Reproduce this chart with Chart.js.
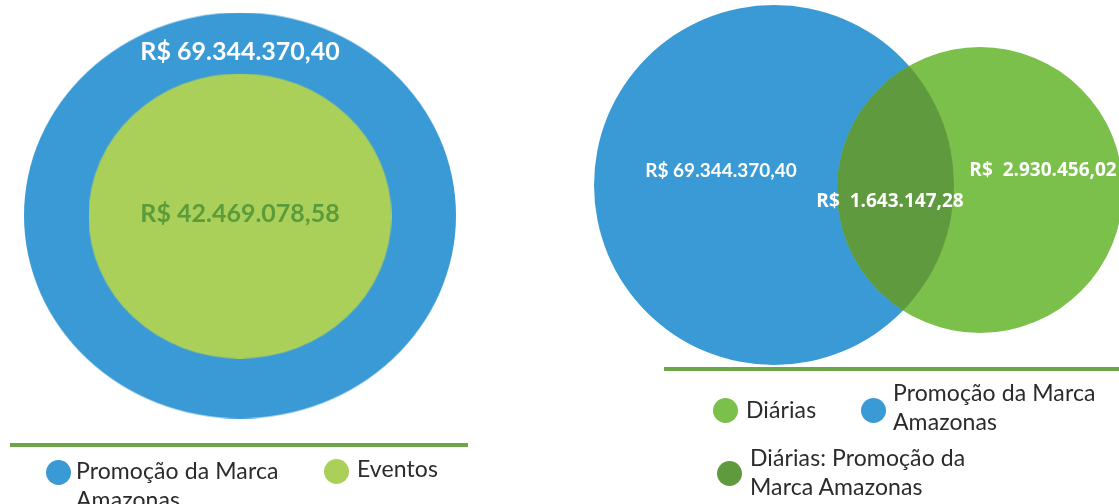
<!DOCTYPE html>
<html>
<head>
<meta charset="utf-8">
<script src="https://cdn.jsdelivr.net/npm/chart.js@4.4.1/dist/chart.umd.min.js"></script>
<style>
  html, body { margin: 0; padding: 0; background: #ffffff; }
  #wrap { position: relative; width: 1119px; height: 504px; overflow: hidden; font-family: Lato, "Open Sans", sans-serif; }
  #c { position: absolute; left: 0; top: 0; }
  .rule { position: absolute; height: 4px; background: #6da548; }
  .dot { position: absolute; width: 25px; height: 25px; border-radius: 50%; }
  .ltxt { position: absolute; white-space: nowrap; color: #2b2b2b; font-size: 23px; line-height: 29px; font-family: Lato, sans-serif; letter-spacing: 0.1px; }
</style>
</head>
<body>
<div id="wrap">
  <canvas id="c" width="1119" height="504"></canvas>
  <div id="legends"></div>
</div>
<script>
// ---- data ----
const leftCategories = ['Promoção da Marca Amazonas', 'Eventos'];
const leftValues = [69344370.40, 42469078.58];
const rightCategories = ['Promoção da Marca Amazonas', 'Diárias', 'Diárias: Promoção da Marca Amazonas'];
const rightValues = [69344370.40, 2930456.02, 1643147.28];
const rightLegendOrder = ['Diárias', 'Promoção da Marca Amazonas', 'Diárias: Promoção da Marca Amazonas'];

// ---- layout & style (not data) ----
const colors = {
  blue: '#3a9ad6',
  paleGreen: '#abd05a',
  green: '#7bc04b',
  lens: '#5f9a3f',
  label: '#5a9b3b'
};
const leftShapes = [
  { cx: 240, cy: 215.5, rx: 216, ry: 203, color: colors.blue },
  { cx: 240, cy: 216, rx: 151.5, ry: 142.5, color: colors.paleGreen }
];
const rightShapes = [
  { cx: 774, cy: 185, rx: 180, ry: 180, color: colors.blue },
  { cx: 980, cy: 190, rx: 143, ry: 143, color: colors.green }
];
const leftLabelPos = [
  { x: 240, y: 52, color: '#ffffff', size: 25, font: 'Lato', sep: ' ' },
  { x: 240, y: 214, color: colors.label, size: 25, font: 'Lato', sep: ' ' }
];
const rightLabelPos = [
  { x: 721, y: 171, color: '#ffffff', size: 19, font: 'Lato', sep: ' ' },
  { x: 1043, y: 171, color: '#ffffff', size: 19, font: '"Open Sans"', sep: '\u00a0\u00a0' },
  { x: 890, y: 202, color: '#ffffff', size: 19, font: '"Open Sans"', sep: '\u00a0\u00a0' }
];

function brl(v, sep) {
  const parts = v.toFixed(2).split('.');
  const intPart = parts[0].replace(/\B(?=(\d{3})+(?!\d))/g, '.');
  return 'R$' + (sep || ' ') + intPart + ',' + parts[1];
}

function ellipseCanvas(rx, ry, color) {
  const c = document.createElement('canvas');
  c.width = Math.round(rx * 2);
  c.height = Math.round(ry * 2);
  const g = c.getContext('2d');
  g.fillStyle = color;
  g.beginPath();
  g.ellipse(c.width / 2, c.height / 2, rx, ry, 0, 0, Math.PI * 2);
  g.fill();
  return c;
}

function shapeDataset(shape, value, label, order) {
  return {
    label: label,
    data: [{ x: shape.cx, y: shape.cy, r: shape.ry, v: value }],
    pointStyle: ellipseCanvas(shape.rx, shape.ry, shape.color),
    backgroundColor: shape.color,
    borderWidth: 0,
    clip: false,
    order: order
  };
}

const datasets = [
  shapeDataset(leftShapes[0], leftValues[0], leftCategories[0], 4),
  shapeDataset(leftShapes[1], leftValues[1], leftCategories[1], 3),
  shapeDataset(rightShapes[0], rightValues[0], rightCategories[0], 2),
  shapeDataset(rightShapes[1], rightValues[1], rightCategories[1], 1)
];

const lensPlugin = {
  id: 'lens',
  afterDatasetsDraw(chart) {
    const ctx = chart.ctx;
    const a = chart.getDatasetMeta(2).data[0];
    const b = chart.getDatasetMeta(3).data[0];
    ctx.save();
    ctx.beginPath();
    ctx.ellipse(a.x, a.y, rightShapes[0].rx, rightShapes[0].ry, 0, 0, Math.PI * 2);
    ctx.clip();
    ctx.beginPath();
    ctx.ellipse(b.x, b.y, rightShapes[1].rx, rightShapes[1].ry, 0, 0, Math.PI * 2);
    ctx.fillStyle = colors.lens;
    ctx.fill();
    ctx.restore();
  }
};

const labelPlugin = {
  id: 'valueLabels',
  afterDraw(chart) {
    const ctx = chart.ctx;
    const xs = chart.scales.x, ys = chart.scales.y;
    ctx.save();
    ctx.textAlign = 'center';
    ctx.textBaseline = 'middle';
    const draw = (v, p) => {
      ctx.font = 'bold ' + p.size + 'px ' + p.font;
      ctx.fillStyle = p.color;
      ctx.fillText(brl(v, p.sep), xs.getPixelForValue(p.x), ys.getPixelForValue(p.y));
    };
    leftValues.forEach((v, i) => draw(v, leftLabelPos[i]));
    rightValues.forEach((v, i) => draw(v, rightLabelPos[i]));
    ctx.restore();
  }
};

new Chart(document.getElementById('c'), {
  type: 'bubble',
  data: { datasets: datasets },
  options: {
    responsive: false,
    animation: false,
    events: [],
    layout: { padding: 0, autoPadding: false },
    scales: {
      x: { type: 'linear', min: 0, max: 1119, display: false },
      y: { type: 'linear', min: 0, max: 504, reverse: true, display: false }
    },
    plugins: { legend: { display: false }, tooltip: { enabled: false } }
  },
  plugins: [lensPlugin, labelPlugin]
});

// ---- legends (HTML text) ----
const legendColor = {
  'Promoção da Marca Amazonas': colors.blue,
  'Eventos': colors.paleGreen,
  'Diárias': colors.green,
  'Diárias: Promoção da Marca Amazonas': colors.lens
};
const legendLayout = [
  { name: leftCategories[0], dot: [58, 472], text: [76, 456], lines: ['Promoção da Marca', 'Amazonas'] },
  { name: leftCategories[1], dot: [336, 471], text: [357, 454], lines: ['Eventos'] },
  { name: rightLegendOrder[0], dot: [725, 410], text: [746, 395], lines: ['Diárias'] },
  { name: rightLegendOrder[1], dot: [873, 410], text: [893, 378], lines: ['Promoção da Marca', 'Amazonas'] },
  { name: rightLegendOrder[2], dot: [729, 473], text: [750, 443], lines: ['Diárias: Promoção da', 'Marca Amazonas'] }
];
const host = document.getElementById('legends');
const rules = [ { x: 10, y: 443, w: 458 }, { x: 664, y: 367, w: 455 } ];
rules.forEach(r => {
  const d = document.createElement('div');
  d.className = 'rule';
  d.style.left = r.x + 'px'; d.style.top = r.y + 'px'; d.style.width = r.w + 'px';
  host.appendChild(d);
});
legendLayout.forEach(l => {
  const dot = document.createElement('div');
  dot.className = 'dot';
  dot.style.left = (l.dot[0] - 12.5) + 'px';
  dot.style.top = (l.dot[1] - 12.5) + 'px';
  dot.style.background = legendColor[l.name];
  host.appendChild(dot);
  const t = document.createElement('div');
  t.className = 'ltxt';
  t.style.left = l.text[0] + 'px';
  t.style.top = l.text[1] + 'px';
  t.innerHTML = l.lines.join('<br>');
  host.appendChild(t);
});
</script>
</body>
</html>
